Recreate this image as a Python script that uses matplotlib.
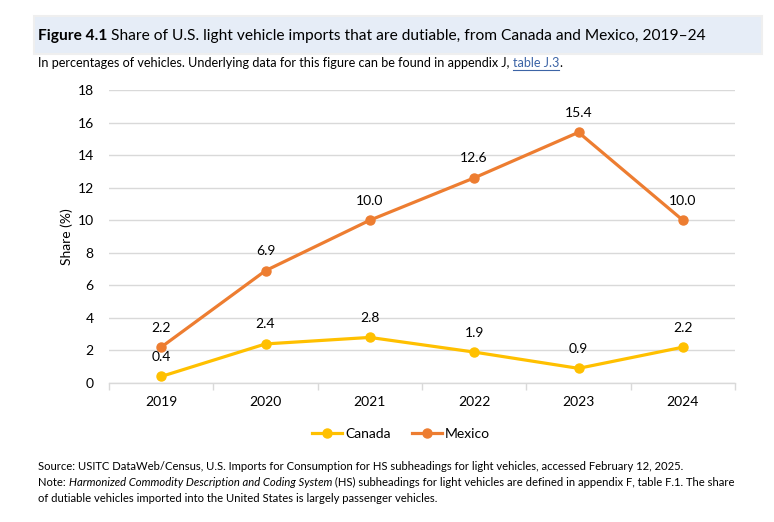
import matplotlib
matplotlib.use("Agg")
import matplotlib.pyplot as plt
from matplotlib.patches import Rectangle
from matplotlib.ticker import FixedLocator

plt.rcParams['font.family'] = ['Lato', 'DejaVu Sans']

years = ["2019", "2020", "2021", "2022", "2023", "2024"]
canada = [0.4, 2.4, 2.8, 1.9, 0.9, 2.2]
mexico = [2.2, 6.9, 10.0, 12.6, 15.4, 10.0]
yticks = [0, 2, 4, 6, 8, 10, 12, 14, 16, 18]

W, H = 774, 522
fig = plt.figure(figsize=(W / 100, H / 100), dpi=100)

def fx(px):
    return px / W

def fy(py):
    return 1 - py / H

# title box
fig.patches.append(Rectangle((fx(34), fy(54)), fx(762) - fx(34), fy(16) - fy(54),
                             transform=fig.transFigure, facecolor="#E6EDF7",
                             edgecolor="#EFEFEF", linewidth=1.5, zorder=0))

renderer = fig.canvas.get_renderer()

def seq_text(x_px, y_px, pieces, size):
    """Draw pieces of text one after another on a baseline."""
    x = fx(x_px)
    for txt, kw in pieces:
        t = fig.text(x, fy(y_px), txt, fontsize=size, va="baseline", ha="left", **kw)
        bb = t.get_window_extent(renderer=renderer)
        x = fig.transFigure.inverted().transform((bb.x1, bb.y0))[0]
    return x

# title
seq_text(38, 40, [("Figure 4.1", dict(fontweight="bold")),
                  (" Share of U.S. light vehicle imports that are dutiable, from Canada and Mexico, 2019\u201324", {})],
         11.2)

# subtitle with link
sfs = 9.1
x = fx(38)
t1 = fig.text(x, fy(67), "In percentages of vehicles. Underlying data for this figure can be found in appendix J, ",
              fontsize=sfs, va="baseline")
bb = t1.get_window_extent(renderer=renderer)
x2 = fig.transFigure.inverted().transform((bb.x1, 0))[0]
t2 = fig.text(x2, fy(67), "table J.3", fontsize=sfs, va="baseline", color="#3C64A6")
bb2 = t2.get_window_extent(renderer=renderer)
x3 = fig.transFigure.inverted().transform((bb2.x1, 0))[0]
fig.add_artist(plt.Line2D([x2, x3], [fy(69.5), fy(69.5)], transform=fig.transFigure,
                          color="#3C64A6", linewidth=0.8))
fig.text(x3, fy(67), ".", fontsize=sfs, va="baseline")

# axes
ax = fig.add_axes([fx(109), fy(383), fx(735) - fx(109), fy(90) - fy(383)])
xs = list(range(len(years)))
c_can = "#FFC000"
c_mex = "#ED7D31"
ax.plot(xs, canada, color=c_can, linewidth=2.3, marker="o", markersize=6.5, label="Canada", zorder=3)
ax.plot(xs, mexico, color=c_mex, linewidth=2.3, marker="o", markersize=6.5, label="Mexico", zorder=3)

for xi, v in zip(xs, canada):
    ax.annotate(f"{v:.1f}", (xi, v), xytext=(0, 14), textcoords="offset points",
                ha="center", va="center", fontsize=10, color="#000000")
for xi, v in zip(xs, mexico):
    ax.annotate(f"{v:.1f}", (xi, v), xytext=(0, 14), textcoords="offset points",
                ha="center", va="center", fontsize=10, color="#000000")

ax.set_xlim(-0.5, len(years) - 0.5)
ax.set_ylim(0, 18)
ax.set_yticks(yticks)
ax.set_yticklabels([str(v) for v in yticks])
ax.set_xticks(xs)
ax.set_xticklabels(years)
ax.xaxis.set_minor_locator(FixedLocator([i - 0.5 for i in range(len(years) + 1)]))
ax.tick_params(axis="x", which="major", length=0, pad=9, labelsize=10, labelcolor="#000000")
ax.tick_params(axis="x", which="minor", length=5, color="#D9D9D9", width=1)
ax.tick_params(axis="y", length=0, pad=11, labelsize=10, labelcolor="#000000")
ax.grid(axis="y", color="#D9D9D9", linewidth=1)
ax.set_axisbelow(True)
for s in ["top", "right", "left"]:
    ax.spines[s].set_visible(False)
ax.spines["bottom"].set_color("#D9D9D9")
ax.spines["bottom"].set_linewidth(1)
ax.set_ylabel("Share (%)", fontsize=10)
ax.yaxis.set_label_coords((67 - 109) / (735 - 109), 0.5)
ax.yaxis.label.set_va("center")

leg = fig.legend(loc="center", bbox_to_anchor=(fx(401), fy(434)), ncol=2, frameon=False,
                 fontsize=10, handlelength=2.2, handletextpad=0.2, columnspacing=1.5)

# source & note
fs = 8.15
fig.text(fx(38), fy(470), "Source: USITC DataWeb/Census, U.S. Imports for Consumption for HS subheadings for light vehicles, accessed February 12, 2025.",
         fontsize=fs, va="baseline")
seq_text(38, 486, [("Note: ", {}),
                   ("Harmonized Commodity Description and Coding System", dict(style="italic")),
                   (" (HS) subheadings for light vehicles are defined in appendix F, table F.1. The share", {})], fs)
fig.text(fx(38), fy(502), "of dutiable vehicles imported into the United States is largely passenger vehicles.",
         fontsize=fs, va="baseline")

fig.savefig("out.png", dpi=100)
